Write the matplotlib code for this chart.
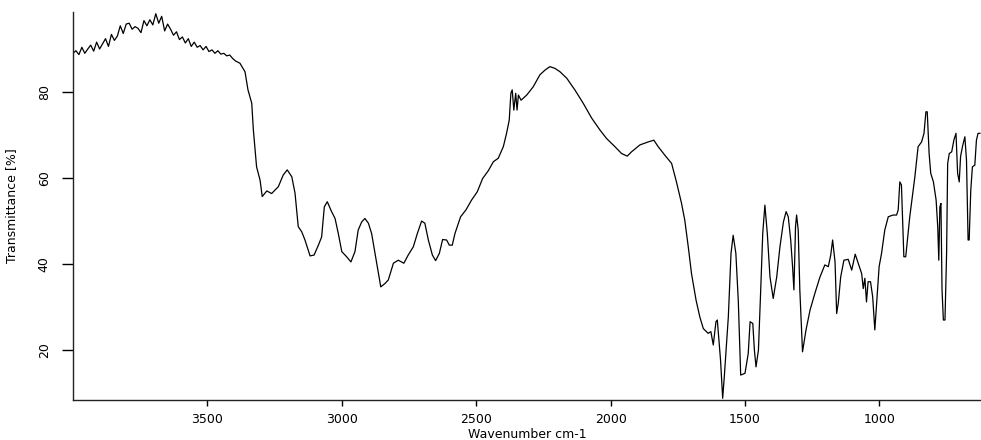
import numpy as np
import matplotlib
matplotlib.use("Agg")
import matplotlib.pyplot as plt

# ==========================================
# FT-IR spectrum: wavenumber (cm-1) vs transmittance (%)
# ==========================================
wavenumber = [
    4000, 3989, 3978, 3967, 3956, 3945, 3934, 3923, 3912, 3901,
    3890, 3879, 3868, 3857, 3846, 3835, 3824, 3813, 3802, 3791,
    3780, 3769, 3758, 3747, 3736, 3725, 3714, 3703, 3692, 3681,
    3670, 3659, 3648, 3637, 3626, 3615, 3604, 3593, 3582, 3571,
    3560, 3549, 3538, 3527, 3516, 3505, 3494, 3483, 3472, 3461,
    3450, 3439, 3428, 3417, 3406, 3395,
    3379, 3360, 3349, 3335, 3329, 3317, 3304, 3296, 3279, 3261,
    3236, 3218, 3203, 3186, 3174, 3162, 3149, 3137, 3118, 3103,
    3087, 3075, 3065, 3054, 3038, 3025, 3013, 3000, 2982, 2966,
    2951, 2939, 2926, 2914, 2901, 2889, 2870, 2855, 2839, 2827,
    2808, 2790, 2769, 2753, 2734, 2719, 2703, 2691, 2678, 2663,
    2651, 2637, 2625, 2610, 2600, 2589, 2579, 2558, 2538, 2517,
    2496, 2476, 2455, 2436, 2418, 2399, 2387, 2377, 2371, 2366,
    2360, 2353, 2348, 2343, 2333, 2312, 2288, 2263, 2244, 2226,
    2207, 2188, 2163, 2133, 2102, 2070, 2040, 2015, 1984, 1959,
    1938, 1922, 1891, 1860, 1839, 1823, 1798, 1773, 1755, 1736,
    1724, 1711, 1699, 1682, 1668, 1655, 1637, 1627, 1618, 1608,
    1603, 1599, 1591, 1583, 1577, 1562, 1552, 1544, 1534, 1525,
    1516, 1500, 1488, 1481, 1471, 1465, 1459, 1450, 1442, 1434,
    1426, 1417, 1407, 1395, 1382, 1370, 1357, 1347, 1339, 1330,
    1323, 1318, 1312, 1308, 1302, 1296, 1286, 1273, 1258, 1240,
    1221, 1203, 1190, 1181, 1174, 1165, 1159, 1153, 1144, 1132,
    1116, 1103, 1090, 1079, 1066, 1060, 1054, 1048, 1042, 1033,
    1025, 1017, 1011, 1001, 992, 980, 967, 949, 936, 930,
    924, 918, 909, 902, 887, 868, 856, 843, 834, 827,
    822, 815, 809, 799, 789, 783, 779, 775, 771, 767,
    762, 756, 750, 746, 740, 731, 723, 715, 709, 703,
    698, 691, 682, 676, 670, 666, 660, 654, 645, 639,
    633, 626,
]

transmittance = [
    89.0, 89.6, 88.7, 90.4, 89.0, 90.0, 90.9, 89.5, 91.6, 90.0,
    91.2, 92.4, 90.6, 93.4, 92.0, 93.0, 95.4, 93.6, 95.8, 96.0,
    94.6, 95.2, 94.8, 93.8, 96.6, 95.4, 96.8, 95.6, 98.2, 96.0,
    97.6, 94.2, 95.8, 94.6, 93.2, 94.0, 92.2, 92.8, 91.4, 92.4,
    90.6, 91.6, 90.4, 90.8, 89.8, 90.6, 89.4, 89.8, 89.0, 89.6,
    88.8, 89.0, 88.4, 88.6, 87.8, 87.2,
    86.7, 84.7, 80.5, 77.4, 71.2, 62.6, 59.5, 55.7, 57.0, 56.4,
    58.0, 60.7, 61.9, 60.3, 56.5, 48.7, 47.5, 45.6, 41.9, 42.1,
    44.4, 46.3, 53.3, 54.5, 52.2, 50.6, 47.1, 42.9, 41.7, 40.5,
    42.9, 47.9, 49.8, 50.6, 49.5, 47.1, 40.2, 34.7, 35.5, 36.3,
    40.2, 40.9, 40.2, 42.1, 44.0, 47.1, 50.0, 49.5, 45.6, 42.1,
    40.8, 42.5, 45.7, 45.6, 44.4, 44.4, 47.1, 51.0, 52.6, 54.9,
    56.8, 59.9, 61.7, 63.8, 64.6, 67.3, 70.4, 73.5, 79.7, 80.5,
    75.8, 79.7, 75.8, 79.3, 78.1, 79.3, 81.2, 84.0, 85.1, 85.9,
    85.5, 84.7, 83.2, 80.5, 77.4, 73.9, 71.2, 69.2, 67.3, 65.7,
    65.1, 66.1, 67.7, 68.4, 68.8, 67.3, 65.3, 63.4, 59.1, 54.1,
    50.2, 44.0, 37.8, 31.6, 27.7, 25.0, 23.9, 24.3, 21.2, 26.6,
    27.0, 23.9, 17.7, 8.8, 13.8, 27.7, 42.5, 46.7, 42.5, 31.6,
    14.2, 14.6, 19.2, 26.6, 26.2, 20.0, 16.1, 20.0, 33.2, 47.1,
    53.7, 47.1, 37.0, 32.0, 37.0, 44.0, 49.8, 52.2, 51.0, 45.6,
    39.4, 34.0, 48.7, 51.4, 47.9, 34.0, 19.6, 24.7, 29.3, 33.2,
    37.0, 39.8, 39.4, 42.1, 45.6, 40.5, 28.5, 30.9, 37.0, 40.9,
    41.1, 38.6, 42.3, 40.2, 37.8, 34.3, 36.7, 31.2, 35.9, 35.9,
    32.4, 24.7, 30.1, 39.4, 42.5, 47.9, 51.0, 51.4, 51.4, 52.6,
    59.1, 58.4, 41.7, 41.7, 51.0, 60.3, 67.3, 68.4, 70.4, 75.4,
    75.4, 65.7, 61.1, 59.1, 54.9, 48.7, 40.9, 53.3, 54.1, 34.0,
    27.0, 27.0, 42.5, 63.4, 65.7, 66.1, 68.8, 70.4, 61.1, 59.1,
    65.0, 67.3, 69.6, 64.2, 45.6, 45.6, 57.2, 62.6, 63.0, 68.8,
    70.4, 70.4,
]

x_ticks = [3500, 3000, 2500, 2000, 1500, 1000]
y_ticks = [20, 40, 60, 80]

narrow = ['Liberation Sans Narrow', 'DejaVu Sans']

fig = plt.figure(figsize=(9.81, 4.40), dpi=100)
ax = fig.add_axes([0.0744, 0.0909, 0.9256, 0.8818])

ax.plot(wavenumber, transmittance, color='black', lw=0.9)

ax.set_xlim(4000, 622)
ax.set_ylim(8.4, 98.6)

ax.spines['top'].set_visible(False)
ax.spines['right'].set_visible(False)
for s in ('left', 'bottom'):
    ax.spines[s].set_linewidth(1.0)
    ax.spines[s].set_color('#222222')

ax.set_xticks(x_ticks)
ax.set_yticks(y_ticks)
ax.tick_params(axis='x', length=4, width=1.0, pad=5, labelsize=9)
ax.tick_params(axis='y', length=8, width=1.0, pad=8, labelsize=9)
for lbl in ax.get_yticklabels():
    lbl.set_rotation(90)
    lbl.set_va('center')
    lbl.set_family(narrow)

ax.set_xlabel('Wavenumber cm-1', fontsize=9, labelpad=2)
ax.set_ylabel('Transmittance [%]', fontsize=9, family=narrow, labelpad=14)

fig.savefig('out.png', dpi=100)
